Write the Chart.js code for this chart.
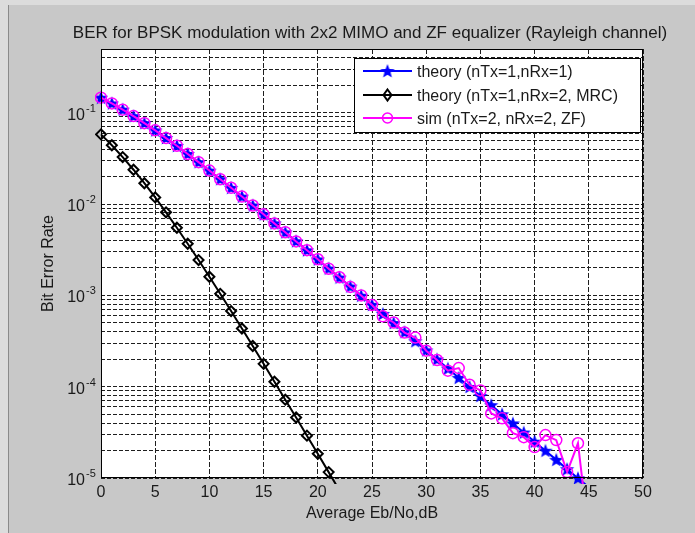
<!DOCTYPE html>
<html>
<head>
<meta charset="utf-8">
<script src="https://cdn.jsdelivr.net/npm/chart.js@4/dist/chart.umd.min.js"></script>
<style>
  body { margin: 0; background: #c8c8c8; }
  canvas { display: block; }
</style>
</head>
<body>
<canvas id="berChart" width="695" height="533"></canvas>
<script>
// Eb/No points (dB)
const ebno = [0, 1, 2, 3, 4, 5, 6, 7, 8, 9, 10, 11, 12, 13, 14, 15, 16, 17, 18, 19, 20, 21, 22,
    23, 24, 25, 26, 27, 28, 29, 30, 31, 32, 33, 34, 35, 36, 37, 38, 39, 40, 41, 42, 43, 44, 45];

// theory (nTx=1,nRx=1)
const theory1x1 = [0.14645, 0.12673, 0.10848, 0.09191, 0.07714, 0.06418, 0.05300, 0.04348, 0.03546, 0.02879,
    0.02327, 0.01875, 0.01507, 0.01208, 0.00967, 0.00772, 0.00616, 0.00491, 0.00392, 0.00312,
    0.00248, 0.00197, 0.00157, 0.00125, 0.000992, 0.000789, 0.000627, 0.000498, 0.000396, 0.000315,
    0.000250, 0.000199, 0.000158, 0.000125, 0.0000995, 0.0000791, 0.0000628, 0.0000499, 0.0000396, 0.0000315,
    0.0000250, 0.0000199, 0.0000158, 0.0000125, 0.00000995, 0.00000791];

// theory (nTx=1,nRx=2, MRC)
const theoryMrc = [0.05806, 0.04411, 0.03275, 0.02379, 0.01693, 0.01183, 0.00813, 0.00551, 0.00368, 0.00244,
    0.00160, 0.001041, 0.000674, 0.000434, 0.000279, 0.000178, 0.0001134, 0.0000721, 0.0000460, 0.0000291,
    0.0000184, 0.0000116, 0.0000073];

// sim (nTx=2, nRx=2, ZF)
const simZf = [0.1466, 0.1268, 0.1083, 0.0921, 0.0770, 0.0643, 0.0529, 0.0436, 0.0354, 0.0288,
    0.0233, 0.0187, 0.0151, 0.0121, 0.00965, 0.00773, 0.00614, 0.00492, 0.00390, 0.00313,
    0.00249, 0.00196, 0.00158, 0.00124, 0.00100, 0.000785, 0.000590, 0.000505, 0.000392, 0.000345,
    0.000248, 0.000196, 0.000150, 0.000160, 0.000105, 0.0000910, 0.0000510, 0.0000450, 0.0000310, 0.0000280,
    0.0000218, 0.0000295, 0.0000260, 0.0000116, 0.0000240, 0.0000024];

const seriesLabels = ['theory (nTx=1,nRx=1)', 'theory (nTx=1,nRx=2, MRC)', 'sim (nTx=2, nRx=2, ZF)'];
const xTicks = [0, 5, 10, 15, 20, 25, 30, 35, 40, 45, 50];
const yDecades = [-5, -4, -3, -2, -1];
const chartTitle = 'BER for BPSK modulation with 2x2 MIMO and ZF equalizer (Rayleigh channel)';
const xTitle = 'Average Eb/No,dB';
const yTitle = 'Bit Error Rate';

const FONT = "'Liberation Sans', Arial, sans-serif";
const TEXT = '#1a1a1a';

// grid positions for a log axis: 1..9 x each decade, up to 0.5
const yGrid = [];
yDecades.forEach(d => {
    for (let m = 1; m <= 9; m++) {
        const v = m * Math.pow(10, d);
        if (v <= 0.5 + 1e-9) yGrid.push(v);
    }
});

const toPoints = (ys) => ys.map((y, i) => ({ x: ebno[i], y: y }));

// filled pentagram marker like matlab 'p'
function makeStar(color) {
    const c = document.createElement('canvas');
    c.width = 18; c.height = 18;
    const g = c.getContext('2d');
    g.beginPath();
    for (let i = 0; i < 10; i++) {
        const r = i % 2 === 0 ? 7.5 : 3.2;
        const a = -Math.PI / 2 + i * Math.PI / 5;
        const px = 9 + r * Math.cos(a), py = 9.5 + r * Math.sin(a);
        if (i === 0) g.moveTo(px, py); else g.lineTo(px, py);
    }
    g.closePath();
    g.fillStyle = color;
    g.fill();
    return c;
}
const starImg = makeStar('#0000ff');

function text(ctx, str, x, y, size, align) {
    ctx.font = size + 'px ' + FONT;
    ctx.textAlign = align || 'left';
    ctx.textBaseline = 'alphabetic';
    ctx.fillStyle = TEXT;
    ctx.fillText(str, x, y);
}

const matlabLook = {
    id: 'matlabLook',
    beforeDraw(chart) {
        const { ctx, chartArea: a } = chart;
        ctx.save();
        ctx.fillStyle = '#c8c8c8';
        ctx.fillRect(0, 0, chart.width, chart.height);
        // window frame lines
        ctx.fillStyle = '#dcdcdc';
        ctx.fillRect(0, 0, chart.width, 5);
        ctx.fillRect(0, 0, 8, chart.height);
        ctx.fillStyle = '#8a8a8a';
        ctx.fillRect(8, 5, 1, chart.height - 5);
        ctx.fillStyle = '#ffffff';
        ctx.fillRect(a.left, a.top, a.right - a.left, a.bottom - a.top);
        ctx.restore();
    },
    afterDatasetsDraw(chart) {
        const { ctx, chartArea: a, scales } = chart;
        ctx.save();
        // axes box
        ctx.strokeStyle = '#000';
        ctx.lineWidth = 1;
        ctx.setLineDash([]);
        ctx.strokeRect(a.left + 0.5, a.top + 0.5, a.right - a.left - 1, a.bottom - a.top - 1);

        // legend box
        const lx = 354, ly = 58, lw = 287, lh = 75;
        ctx.fillStyle = '#fff';
        ctx.fillRect(lx, ly, lw, lh);
        ctx.strokeRect(lx + 0.5, ly + 0.5, lw - 1, lh - 1);
        const rows = [71, 95, 118];
        chart.data.datasets.forEach((ds, i) => {
            const y = rows[i];
            ctx.strokeStyle = ds.borderColor;
            ctx.lineWidth = ds.borderWidth;
            ctx.beginPath();
            ctx.moveTo(363, y);
            ctx.lineTo(412, y);
            ctx.stroke();
            const cx = 387.5;
            if (i === 0) {
                ctx.drawImage(starImg, cx - 9, y - 9);
            } else if (i === 1) {
                ctx.lineWidth = 2;
                ctx.beginPath();
                ctx.moveTo(cx, y - 5.5); ctx.lineTo(cx + 4, y); ctx.lineTo(cx, y + 5.5); ctx.lineTo(cx - 4, y);
                ctx.closePath();
                ctx.stroke();
            } else {
                ctx.lineWidth = 1.5;
                ctx.beginPath();
                ctx.arc(cx, y, 5, 0, Math.PI * 2);
                ctx.stroke();
            }
            text(ctx, seriesLabels[i], 417, y + 6, 16, 'left');
        });

        // texts
        text(ctx, chartTitle, (a.left + a.right) / 2 - 2, 38, 17, 'center');
        const xs = scales.x, ys = scales.y;
        xTicks.forEach(v => text(ctx, String(v), xs.getPixelForValue(v), 497, 16, 'center'));
        text(ctx, xTitle, (a.left + a.right) / 2, 518, 16, 'center');
        yDecades.forEach(d => {
            const py = ys.getPixelForValue(Math.pow(10, d));
            text(ctx, '10', 85, py + 7, 16, 'right');
            text(ctx, String(d), 86, py - 1, 11, 'left');
        });
        ctx.translate(53, (a.top + a.bottom) / 2);
        ctx.rotate(-Math.PI / 2);
        text(ctx, yTitle, 0, 0, 16, 'center');
        ctx.restore();
    }
};

new Chart(document.getElementById('berChart').getContext('2d'), {
    type: 'line',
    data: {
        datasets: [{
            label: seriesLabels[0],
            data: toPoints(theory1x1),
            borderColor: '#0000ff',
            borderWidth: 2,
            pointStyle: starImg,
            pointRadius: 6,
            clip: 6,
            order: 2
        }, {
            label: seriesLabels[1],
            data: toPoints(theoryMrc),
            borderColor: '#000000',
            borderWidth: 2,
            pointStyle: 'rectRot',
            pointRadius: 5,
            pointBorderWidth: 2,
            pointBorderColor: '#000000',
            pointBackgroundColor: 'rgba(0,0,0,0)',
            clip: 6,
            order: 1
        }, {
            label: seriesLabels[2],
            data: toPoints(simZf),
            borderColor: '#ff00ff',
            borderWidth: 2,
            pointStyle: 'circle',
            pointRadius: 5.5,
            pointBorderWidth: 1.5,
            pointBorderColor: '#ff00ff',
            pointBackgroundColor: 'rgba(0,0,0,0)',
            clip: 6,
            order: 0
        }]
    },
    options: {
        responsive: false,
        animation: false,
        layout: { padding: { left: 0, top: 49, right: 52, bottom: 0 } },
        elements: { line: { tension: 0 } },
        scales: {
            x: {
                type: 'linear', min: 0, max: 50,
                ticks: { display: false, stepSize: 5 },
                afterBuildTicks: s => { s.ticks = xTicks.map(v => ({ value: v })); },
                afterFit: s => { s.height = 55; },
                grid: { color: '#1e1e1e', lineWidth: 1, drawTicks: false, borderDash: [5, 2] },
                border: { display: false, dash: [5, 2] }
            },
            y: {
                type: 'logarithmic', min: 1e-5, max: 0.5,
                ticks: { display: false },
                afterBuildTicks: s => { s.ticks = yGrid.map(v => ({ value: v })); },
                afterFit: s => { s.width = 101; },
                grid: { color: '#1e1e1e', lineWidth: 1, drawTicks: false, borderDash: [4, 2] },
                border: { display: false, dash: [4, 2] }
            }
        },
        plugins: {
            legend: { display: false },
            title: { display: false },
            tooltip: { enabled: false }
        }
    },
    plugins: [matlabLook]
});
</script>
</body>
</html>
